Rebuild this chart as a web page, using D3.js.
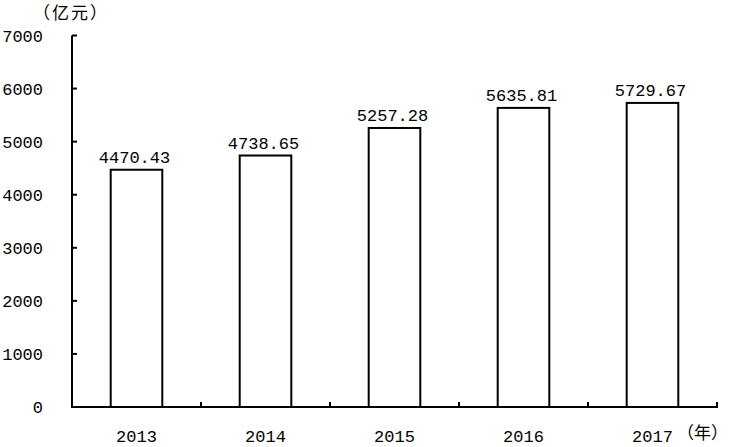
<!DOCTYPE html>
<html><head><meta charset="utf-8">
<script src="https://cdn.jsdelivr.net/npm/d3@7"></script>
<style>body{margin:0;background:#fff}svg{display:block}</style>
</head><body>
<script>
const categories = ["2013", "2014", "2015", "2016", "2017"];
const values = [4470.43, 4738.65, 5257.28, 5635.81, 5729.67];
const yTicks = [0, 1000, 2000, 3000, 4000, 5000, 6000, 7000];
const yUnit = "（亿元）";
const xUnit = "（年）";

const W = 729, H = 447;
const svg = d3.select("body").append("svg").attr("width", W).attr("height", H);
const mLeft = 72, mRight = 717, mTop = 35.5, mBottom = 407;
const font = "'Liberation Mono', 'DejaVu Sans Mono', monospace";

const x = d3.scaleBand().domain(categories).range([mLeft, mRight]).paddingInner(0.6).paddingOuter(0.3);
const xb = d3.scaleBand().domain(categories).range([mLeft, mRight]);
const y = d3.scaleLinear().domain([0, 7000]).range([mBottom, mTop]);

// bars
svg.selectAll("rect.bar").data(values).join("rect")
  .attr("x", (d, i) => x(categories[i]))
  .attr("y", d => y(d))
  .attr("width", x.bandwidth())
  .attr("height", d => y(0) - y(d))
  .attr("fill", "#fff").attr("stroke", "#000").attr("stroke-width", 2);

// value labels
svg.selectAll("text.val").data(values).join("text")
  .attr("x", (d, i) => x(categories[i]) + x.bandwidth() / 2 - 2)
  .attr("y", d => y(d) - 7)
  .attr("text-anchor", "middle")
  .attr("font-family", font).attr("font-size", 17)
  .text(d => d.toFixed(2));

// y axis
svg.append("line").attr("x1", mLeft).attr("x2", mLeft).attr("y1", mTop).attr("y2", mBottom)
  .attr("stroke", "#000").attr("stroke-width", 2);
svg.selectAll("line.yt").data(yTicks).join("line")
  .attr("x1", mLeft).attr("x2", mLeft + 5)
  .attr("y1", d => y(d)).attr("y2", d => y(d))
  .attr("stroke", "#000").attr("stroke-width", 2);
svg.selectAll("text.yl").data(yTicks).join("text")
  .attr("x", 43).attr("y", d => y(d) + 6)
  .attr("text-anchor", "end")
  .attr("font-family", font).attr("font-size", 17)
  .text(d => d);

// x axis
svg.append("line").attr("x1", mLeft - 1).attr("x2", mRight + 1).attr("y1", mBottom).attr("y2", mBottom)
  .attr("stroke", "#000").attr("stroke-width", 2);
const bounds = categories.map(c => xb(c)).concat([mRight]);
svg.selectAll("line.xt").data(bounds).join("line")
  .attr("x1", d => d).attr("x2", d => d)
  .attr("y1", mBottom).attr("y2", mBottom - 5)
  .attr("stroke", "#000").attr("stroke-width", 2);
svg.selectAll("text.xl").data(categories).join("text")
  .attr("x", d => xb(d) + xb.bandwidth() / 2)
  .attr("y", 442)
  .attr("text-anchor", "middle")
  .attr("font-family", font).attr("font-size", 17)
  .text(d => d);

// units
svg.append("text").attr("x", 33).attr("y", 19)
  .attr("font-family", "'Noto Sans CJK SC', sans-serif").attr("font-size", 17)
  .attr("letter-spacing", 2)
  .text(yUnit);
svg.append("text").attr("x", 728).attr("y", 439)
  .attr("text-anchor", "end")
  .attr("font-family", "'Noto Sans CJK SC', sans-serif").attr("font-size", 17)
  .text(xUnit);
</script>
</body></html>
